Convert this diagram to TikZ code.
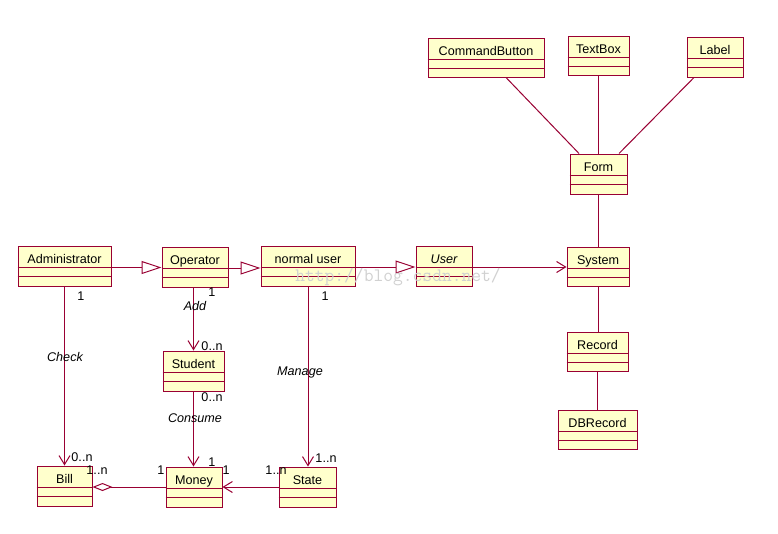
\documentclass[tikz,border=0pt]{standalone}
\usepackage{fontspec}
\setmainfont{Liberation Sans}
\usetikzlibrary{arrows.meta}
\definecolor{umlred}{RGB}{153,0,51}
\definecolor{umlfill}{RGB}{255,255,204}
\tikzset{
  clsbox/.style={draw=umlred, fill=umlfill, rectangle, line width=1pt, inner sep=0pt},
  clsline/.style={draw=umlred, line width=1pt},
  clstext/.style={anchor=base, inner sep=0pt, font=\fontsize{12.6}{14}\selectfont},
  assoc/.style={draw=umlred, line width=1pt},
  gen/.style={assoc, -{Triangle[length=20pt,width=13pt,fill=white]}},
  nav/.style={assoc, -{Straight Barb[length=9pt,width=11pt]}},
  agg/.style={assoc, -{Diamond[length=20pt,width=8pt,fill=white]}},
  mult/.style={inner sep=0pt, font=\fontsize{12.6}{14}\selectfont},
  role/.style={inner sep=0pt, font=\fontsize{12.6}{14}\selectfont\itshape},
}
\newcommand\umlcls[6]{%
  \node[clsbox, minimum width={(#4-#2)*1pt}, minimum height={(#5-#3)*1pt}] (#1) at ({(#2+#4)/2},{(#3+#5)/2}) {};
  \draw[clsline] ([yshift=-22pt]#1.north west) -- ([yshift=-22pt]#1.north east);
  \draw[clsline] ([yshift=-31pt]#1.north west) -- ([yshift=-31pt]#1.north east);
  \node[clstext] (#1-name) at ([yshift=-17.5pt]#1.north) {#6};
}
\begin{document}
\begin{tikzpicture}[x=1pt,y=-1pt]
\fill[white] (0,0) rectangle (778,533);
\useasboundingbox (0,0) rectangle (778,533);
% classes
\umlcls{Administrator}{18}{246}{111}{286}{Administrator}
\umlcls{Operator}{162}{247}{228}{287}{Operator}
\umlcls{normaluser}{261}{246}{355}{286}{normal user}
\umlcls{User}{416}{246}{472}{286}{\itshape User}
\umlcls{System}{567}{247}{629}{286}{System}
\umlcls{Student}{163}{351}{224}{391}{Student}
\umlcls{Bill}{37}{466}{92}{506}{Bill}
\umlcls{Money}{166}{467}{222}{507}{Money}
\umlcls{State}{279}{467}{336}{507}{State}
\umlcls{CommandButton}{428}{38}{544}{77}{CommandButton}
\umlcls{TextBox}{568}{36}{629}{75}{TextBox}
\umlcls{Label}{687}{37}{743}{77}{Label}
\umlcls{Form}{570}{154}{627}{194}{Form}
\umlcls{Record}{567}{332}{628}{371}{Record}
\umlcls{DBRecord}{558}{410}{637}{449}{DBRecord}
% generalizations
\draw[gen] ([yshift=-1.5pt]Administrator.east) -- ([yshift=-1.5pt]Administrator.east -| Operator.west);
\draw[gen] ([yshift=-1pt]Operator.east) -- ([yshift=-1pt]Operator.east -| normaluser.west);
\draw[gen] ([yshift=-1pt]normaluser.east) -- ([yshift=-1pt]normaluser.east -| User.west);
\draw[nav] ([yshift=-1pt]User.east) -- ([yshift=-1pt]User.east -| System.west);
% associations
\draw[nav] (Administrator.south) -- (Administrator.south |- Bill.north);
\draw[nav] (Student.north |- Operator.south) -- (Student.north);
\draw[nav] (normaluser.south) -- (normaluser.south |- State.north);
\draw[nav] (Student.south) -- (Student.south |- Money.north);
\draw[agg] (Money.west) -- (Money.west -| Bill.east);
\draw[nav] (State.west) -- (Money.east);
\draw[assoc] ([xshift=20pt]CommandButton.south) -- ([xshift=-19.5pt]Form.north);
\draw[assoc] (TextBox.south) -- (TextBox.south |- Form.north);
\draw[assoc] ([xshift=-21pt]Label.south) -- ([xshift=20.5pt]Form.north);
\draw[assoc] (Form.south) -- (Form.south |- System.north);
\draw[assoc] (System.south) -- (System.south |- Record.north);
\draw[assoc] (Record.south) -- (Record.south |- DBRecord.north);
% multiplicities and roles
\node[mult] (m1) at (81,296) {1};
\node[mult] (m2) at (212,292) {1};
\node[mult] (m3) at (325,296) {1};
\node[mult] (m4) at (212,346) {0..n};
\node[mult] (m5) at (212,397) {0..n};
\node[mult] (m6) at (82,457) {0..n};
\node[mult] (m7) at (97,470) {1..n};
\node[mult] (m8) at (161,470) {1};
\node[mult] (m9) at (212,462) {1};
\node[mult] (m10) at (226,470) {1};
\node[mult] (m11) at (276,470) {1..n};
\node[mult] (m12) at (326,458) {1..n};
\node[role] (r1) at (195,306) {Add};
\node[role] (r2) at (65,357) {Check};
\node[role] (r3) at (300,372) {Manage};
\node[role] (r4) at (195,418) {Consume};
% watermark
\node[inner sep=0pt, text=black!18, font=\ttfamily\fontsize{19}{20}\selectfont] (wm) at (398,277) {http://blog.csdn.net/};
\end{tikzpicture}
\end{document}
